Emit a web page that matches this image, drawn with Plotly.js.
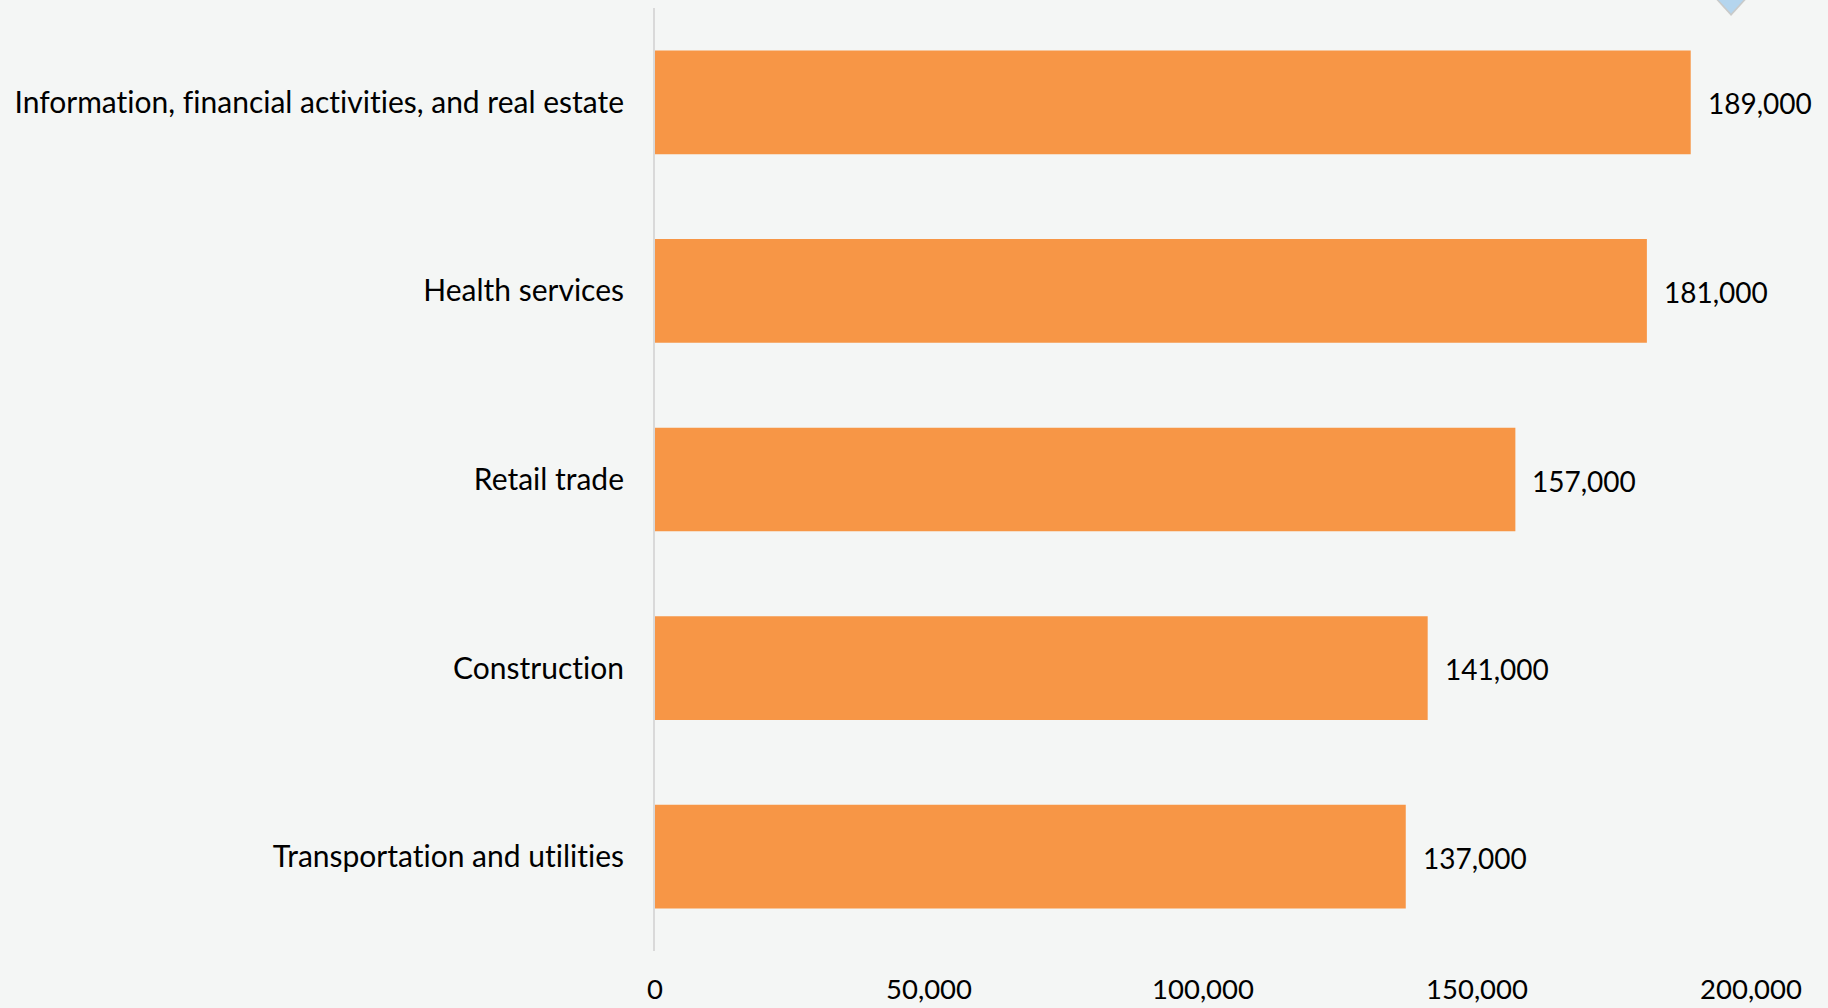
<!DOCTYPE html>
<html>
<head>
<meta charset="utf-8">
<script src="https://cdn.plot.ly/plotly-3.0.1.min.js"></script>
<style>
html,body{margin:0;padding:0;background:#F4F6F5;}
#chart{width:1828px;height:1008px;}
text{font-variant-ligatures:none !important;font-feature-settings:"liga" 0,"clig" 0 !important;}
</style>
</head>
<body>
<div id="chart"></div>
<script>
const categories = [
  "Information, financial activities, and real estate",
  "Health services",
  "Retail trade",
  "Construction",
  "Transportation and utilities"
];
const values = [189000, 181000, 157000, 141000, 137000];
const tickValues = [0, 50000, 100000, 150000, 200000];
const tickLabels = ["0", "50,000", "100,000", "150,000", "200,000"];

const FONT = "Lato, 'Open Sans', sans-serif";
const fmt = v => v.toLocaleString("en-US");

const trace = {
  type: "bar",
  orientation: "h",
  x: values,
  y: categories,
  marker: {color: "#F79646"},
  hoverinfo: "none",
  cliponaxis: false
};

const annotations = values.map((v, i) => ({
  x: v, y: categories[i], xref: "x", yref: "y",
  text: fmt(v), showarrow: false, xanchor: "left", yanchor: "middle",
  xshift: 15, yshift: -1, font: {family: FONT, size: 28, color: "#000"}
}));

const layout = {
  width: 1828, height: 1008,
  paper_bgcolor: "#F4F6F5", plot_bgcolor: "#F4F6F5",
  margin: {l: 655, r: 77, t: 7.5, b: 56.5, pad: 0},
  bargap: 0.45,
  showlegend: false,
  font: {family: FONT, size: 28, color: "#000"},
  xaxis: {
    range: [0, 200000], tickvals: tickValues, ticktext: tickLabels,
    showgrid: false, zeroline: false, showline: false, ticks: "",
    ticklabelstandoff: 19, fixedrange: true,
    tickfont: {family: FONT, size: 27.5, color: "#000"}
  },
  yaxis: {
    autorange: false, range: [4.5, -0.5], type: "category",
    showgrid: false, zeroline: false, showline: true, linecolor: "#D9D9D9", linewidth: 2,
    ticks: "", ticklabelstandoff: 23, fixedrange: true,
    tickfont: {family: FONT, size: 30, color: "#000"}
  },
  annotations: annotations,
  shapes: [
    {type: "path", xref: "paper", yref: "paper", xsizemode: "pixel", ysizemode: "pixel",
     xanchor: 0.9818, yanchor: 1,
     path: "M -20,14 L 20,14 L 0,-8 Z", fillcolor: "rgba(120,120,120,0.35)", line: {width: 0}},
    {type: "path", xref: "paper", yref: "paper", xsizemode: "pixel", ysizemode: "pixel",
     xanchor: 0.9818, yanchor: 1,
     path: "M -18,14 L 18,14 L 0,-5.5 Z", fillcolor: "#B4D5EE", line: {width: 0}}
  ]
};

Plotly.newPlot("chart", [trace], layout, {displayModeBar: false, staticPlot: true});
</script>
</body>
</html>
